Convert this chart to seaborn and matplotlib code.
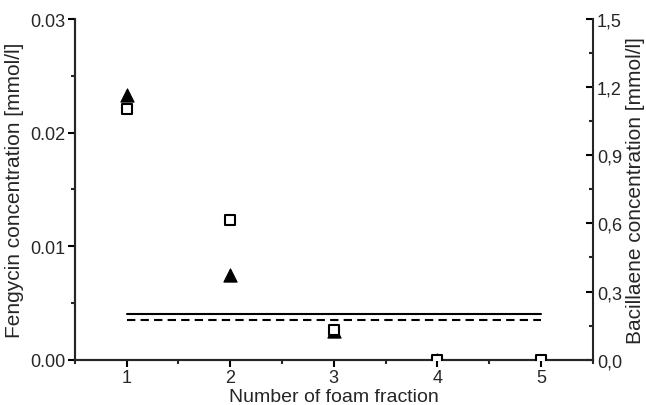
import seaborn as sns
import pandas as pd
import matplotlib.pyplot as plt
from matplotlib.ticker import MultipleLocator, FuncFormatter

fraction = [1, 2, 3, 4, 5]
fengycin = [0.0221, 0.0123, 0.0026, 0.0, 0.0]          # open squares, left axis
bacillaene_frac = [1, 2, 3, 4]
bacillaene = [1.165, 0.373, 0.125, 0.0]                 # filled triangles, right axis

limit_x = [1, 5]
limit_solid = [0.0040, 0.0040]
limit_dashed = [0.0035, 0.0035]

sns.set_style("ticks")
plt.rcParams["font.family"] = ["Liberation Sans", "DejaVu Sans"]

fig = plt.figure(figsize=(6.46, 4.06), dpi=100)
ax = fig.add_axes([0.116, 0.1116, 0.8015, 0.8391])
ax2 = ax.twinx()

sns.lineplot(ax=ax, x=limit_x, y=limit_solid, color="black", linewidth=1.5)
sns.lineplot(ax=ax, x=limit_x, y=limit_dashed, color="black", linewidth=1.5, linestyle=(0, (4, 2.5)))

sns.scatterplot(ax=ax2, x=bacillaene_frac, y=bacillaene, marker="^", color="black",
                edgecolor="black", s=90, linewidth=0.8, zorder=3)
sns.scatterplot(ax=ax, x=fraction, y=fengycin, marker="s", color="white",
                edgecolor="black", s=55, linewidth=1.5, zorder=4)
ax.set_zorder(ax2.get_zorder() + 1)
ax.patch.set_visible(False)

ax.set_xlim(0.5, 5.5)
ax.set_ylim(0, 0.03)
ax2.set_ylim(0, 1.5)

ax.set_xticks([1, 2, 3, 4, 5])
ax.xaxis.set_minor_locator(MultipleLocator(0.5))
ax.set_yticks([0.0, 0.01, 0.02, 0.03])
ax.yaxis.set_minor_locator(MultipleLocator(0.005))
ax.yaxis.set_major_formatter(FuncFormatter(lambda v, p: f"{v:.2f}"))
ax2.set_yticks([0.0, 0.3, 0.6, 0.9, 1.2, 1.5])
ax2.yaxis.set_minor_locator(MultipleLocator(0.15))
ax2.yaxis.set_major_formatter(FuncFormatter(lambda v, p: f"{v:.1f}".replace(".", ",")))

for a in (ax, ax2):
    for s in a.spines.values():
        s.set_linewidth(1.5)
ax.tick_params(which="major", length=5, width=1.5, labelsize=13, direction="out",
               color="black", pad=2)
ax.tick_params(which="minor", length=3, width=1.5, direction="out")
ax2.tick_params(which="major", length=5, width=1.5, labelsize=13, direction="in",
                color="black", pad=3)
ax2.tick_params(which="minor", length=3, width=1.5, direction="in")
ax.spines["top"].set_visible(False)
ax2.spines["top"].set_visible(False)
ax.spines["right"].set_visible(False)

ax.set_xlabel("Number of foam fraction", fontsize=14, labelpad=1)
ax.set_ylabel("Fengycin concentration [mmol/l]", fontsize=15, labelpad=4)
ax2.set_ylabel("Bacillaene concentration [mmol/l]", fontsize=15, labelpad=3)

fig.savefig("out.png", dpi=100)
